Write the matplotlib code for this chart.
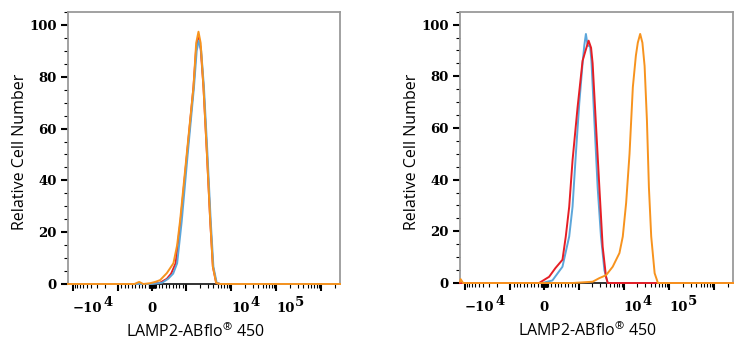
import matplotlib.pyplot as plt
from matplotlib.ticker import FixedLocator, MultipleLocator, NullFormatter

plt.rcParams['mathtext.fontset'] = 'custom'
plt.rcParams['mathtext.rm'] = 'Open Sans'

# histogram traces, x in fluorescence units, y in relative cell number
# left panel
left_blue_x = [-12900, -500, 0, 294, 471, 618, 735, 868, 1080, 1491, 1712, 1905, 2154, 2480, 2960, 3500, 4020,
               4770, 5690, 2600000]
left_blue_y = [0, 0, 0, 0.5, 2, 4, 8, 24, 50, 76, 90, 94, 90, 76, 50.6, 24.7, 6.7, 0.4, 0, 0]

left_red_x = [-12900, -500, -59, 235, 432, 559, 691, 838, 1052, 1453, 1668, 1877, 2099, 2424, 2885, 3415, 3919,
              4642, 5690, 2600000]
left_red_y = [0, 0, 0, 0.5, 2, 4, 8, 24.7, 50.6, 76, 91, 95, 91, 76, 50.6, 24.7, 6.7, 0.4, 0, 0]

left_orange_x = [-12900, -520, -380, -260, -59, 88, 235, 432, 626, 735, 824, 1036, 1453, 1668, 1877, 2099, 2424,
                 2885, 3415, 3919, 4642, 5690, 2600000]
left_orange_y = [0, 0, 0.8, 0, 0.3, 0.8, 1.5, 4.2, 8, 15, 24.7, 50.6, 76, 93, 97.4, 93, 76,
                 50.6, 24.7, 6.7, 0.4, 0, 0]

# right panel
right_blue_x = [-12900, -500, -59, 235, 529, 726, 824, 921, 1036, 1227, 1340, 1453, 1585, 1800, 1926, 2233, 2642,
                3128, 3724, 4415, 2600000]
right_blue_y = [0, 0, 0, 1, 6.3, 18, 29.5, 50, 69.5, 85, 92, 96.4, 92, 91.5, 86, 63, 37,
                18, 5, 0, 0]

right_red_x = [-12900, -500, -156, 138, 324, 529, 626, 726, 824, 971, 1227, 1430, 1668, 1892, 2047, 2396, 2885,
               3415, 4046, 4415, 2600000]
right_red_y = [0, 0, 0, 2.4, 5.8, 9, 18, 29.5, 47.5, 68, 86, 90, 93.8, 91, 85, 63, 37,
               14, 2.4, 0, 0]

right_orange_x = [-12900, -12500, -11000, 824, 2047, 2885, 4046, 5690, 8017, 9500, 11265, 13390, 15849, 18500,
                  20400, 23025, 25800, 28840, 32470, 35930, 40390, 48070, 56890, 2600000]
right_orange_y = [0.5, 1.5, 0, 0, 0.5, 1.9, 3, 6.3, 11.6, 18, 31, 50, 75.8, 88,
                  93, 96.4, 93, 84, 63, 37, 18, 3.8, 0, 0]

x_major = [-1e4, -1e3, 0, 1e3, 1e4, 1e5, 1e6]
x_major_labels = ['\u221210', '', '0', '', '10', '10', '']
x_label_align = ['left', 'center', 'center', 'center', 'left', 'left', 'center']
x_exponents = ['4', '', '', '', '4', '5', '']
x_minor = [s * k * 10 ** j for s in (-1, 1) for j in range(1, 7) for k in range(1, 10)
           if not (k == 1 and j >= 3)]

RED = '#e61e25'
BLUE = '#5ca6da'
ORANGE = '#f7931e'
TICK_FONT = dict(family='DejaVu Serif', weight='bold', size=9.5)


def style_axes(ax):
    ax.set_xscale('symlog', linthresh=1e3, linscale=0.68)
    ax.set_xlim(-1.29e4, 2.6e6)
    ax.set_ylim(0, 105)

    ax.xaxis.set_major_locator(FixedLocator(x_major))
    ax.xaxis.set_minor_locator(FixedLocator(x_minor))
    ax.xaxis.set_minor_formatter(NullFormatter())
    ax.set_xticklabels(x_major_labels, **TICK_FONT)
    for lbl, ha, exp in zip(ax.get_xticklabels(), x_label_align, x_exponents):
        lbl.set_ha(ha)
        if exp:
            # exponent sits at the upper right corner of the "10"
            ax.annotate(exp, xy=(1.0, 0.95), xycoords=lbl, xytext=(0.5, 0), textcoords='offset points',
                        ha='left', va='center', annotation_clip=False, **TICK_FONT)

    ax.set_yticks(range(0, 101, 20))
    ax.yaxis.set_minor_locator(MultipleLocator(5))
    ax.set_yticklabels([str(v) for v in range(0, 101, 20)], **TICK_FONT)

    ax.tick_params(axis='both', which='major', direction='out', length=5, width=1.5, color='black')
    ax.tick_params(axis='both', which='minor', direction='out', length=3, width=0.8, color='black')
    ax.tick_params(axis='x', which='major', pad=8)
    ax.tick_params(axis='y', which='major', pad=3)

    for side in ('top', 'right', 'left'):
        ax.spines[side].set_color('#9a9a9a')
        ax.spines[side].set_linewidth(1.3)
    ax.spines['bottom'].set_color('#222222')
    ax.spines['bottom'].set_linewidth(1.3)

    ax.set_xlabel('LAMP2-ABflo$^{®}$ 450', fontfamily='Open Sans', fontsize=11.5)
    ax.set_ylabel('Relative Cell Number', fontfamily='Open Sans', fontsize=11.5)
    ax.xaxis.set_label_coords(0.468, -0.176)
    ax.yaxis.set_label_coords(-0.176, 0.485)
    ax.xaxis.label.set_va('center')
    ax.yaxis.label.set_va('center')


fig = plt.figure(figsize=(7.46, 3.5), dpi=100)
ax1 = fig.add_axes([0.0912, 0.1886, 0.3646, 0.7771])
ax2 = fig.add_axes([0.6166, 0.1914, 0.3660, 0.7751])

lw = 1.4
ax1.plot(left_red_x, left_red_y, color=RED, lw=lw, clip_on=False, zorder=3)
ax1.plot(left_blue_x, left_blue_y, color=BLUE, lw=lw, clip_on=False, zorder=3)
ax1.plot(left_orange_x, left_orange_y, color=ORANGE, lw=lw, clip_on=False, zorder=3)

ax2.plot(right_blue_x, right_blue_y, color=BLUE, lw=lw, clip_on=False, zorder=3)
ax2.plot(right_red_x, right_red_y, color=RED, lw=lw, clip_on=False, zorder=3)
ax2.plot(right_orange_x, right_orange_y, color=ORANGE, lw=lw, clip_on=False, zorder=3)

for ax in (ax1, ax2):
    style_axes(ax)

fig.savefig('out.png', dpi=100)
